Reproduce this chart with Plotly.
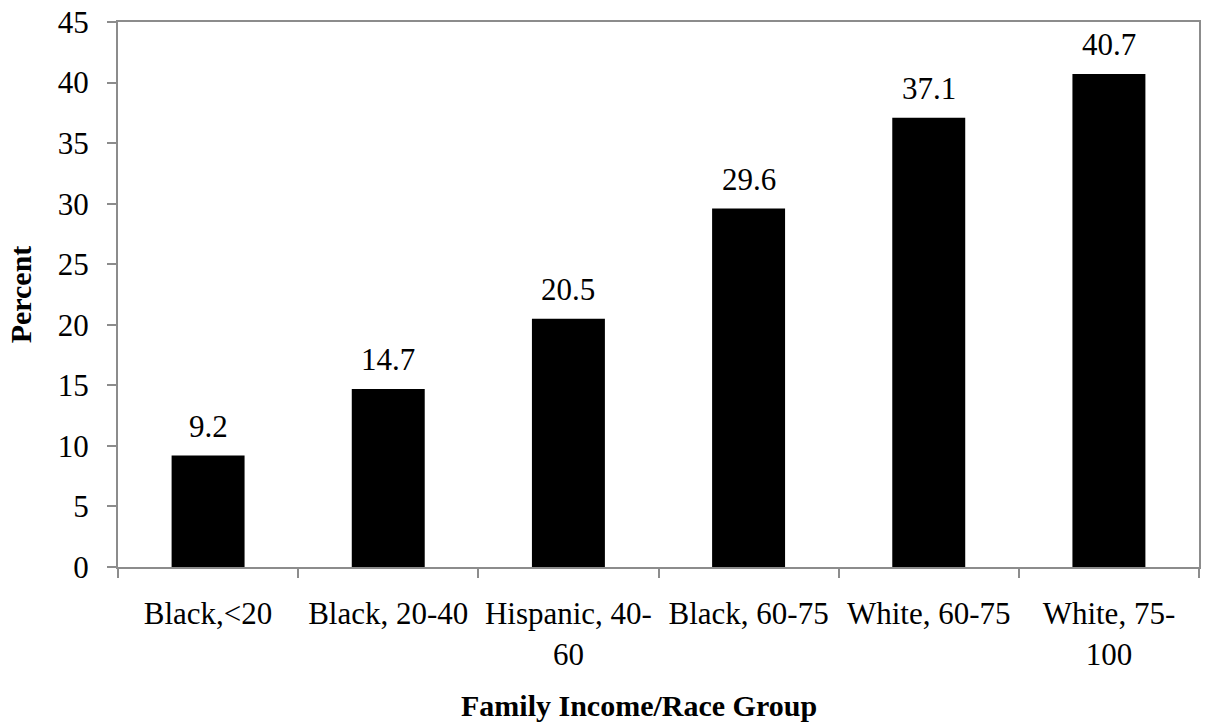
import plotly.graph_objects as go

categories = ["Black,<20", "Black, 20-40", "Hispanic, 40-<br>60", "Black, 60-75",
              "White, 60-75", "White, 75-<br>100"]
percent = [9.2, 14.7, 20.5, 29.6, 37.1, 40.7]

FONT = "Liberation Serif"
AXIS_GRAY = "#8c8c8c"
FS = 31

fig = go.Figure()
fig.add_trace(go.Bar(
    x=categories, y=percent,
    marker=dict(color="black", line=dict(width=0)),
    width=0.405,
))

# value labels above each bar
for c, v in zip(categories, percent):
    fig.add_annotation(
        x=c, y=v, text=f"{v:.1f}", showarrow=False,
        yanchor="bottom", yshift=10,
        font=dict(family=FONT, size=FS, color="black"),
    )

fig.add_annotation(
    x=0.482, xref="paper", y=-0.22, yref="paper",
    text="<b>Family Income/Race Group</b>", showarrow=False,
    yanchor="top", font=dict(family=FONT, size=30, color="black"),
)

fig.update_layout(
    width=1206, height=725,
    margin=dict(l=118, r=5, t=18, b=158),
    paper_bgcolor="white", plot_bgcolor="white",
    showlegend=False,
    font=dict(family=FONT, size=FS, color="black"),
)
fig.update_xaxes(
    showline=True, linecolor=AXIS_GRAY, linewidth=2, mirror=True,
    ticks="outside", tickson="boundaries", ticklen=9, tickcolor=AXIS_GRAY, tickwidth=2,
    showgrid=False, tickfont=dict(family=FONT, size=FS, color="black"),
    ticklabelstandoff=18,
)
fig.update_yaxes(
    range=[0, 45], dtick=5, tick0=0,
    showline=True, linecolor=AXIS_GRAY, linewidth=2, mirror=True,
    ticks="outside", ticklen=9, tickcolor=AXIS_GRAY, tickwidth=2,
    showgrid=False, zeroline=False,
    tickfont=dict(family=FONT, size=FS, color="black"),
    ticklabelstandoff=12,
    title=dict(text="<b>Percent</b>", font=dict(family=FONT, size=30, color="black"), standoff=17),
)

fig.write_html("out.html")
